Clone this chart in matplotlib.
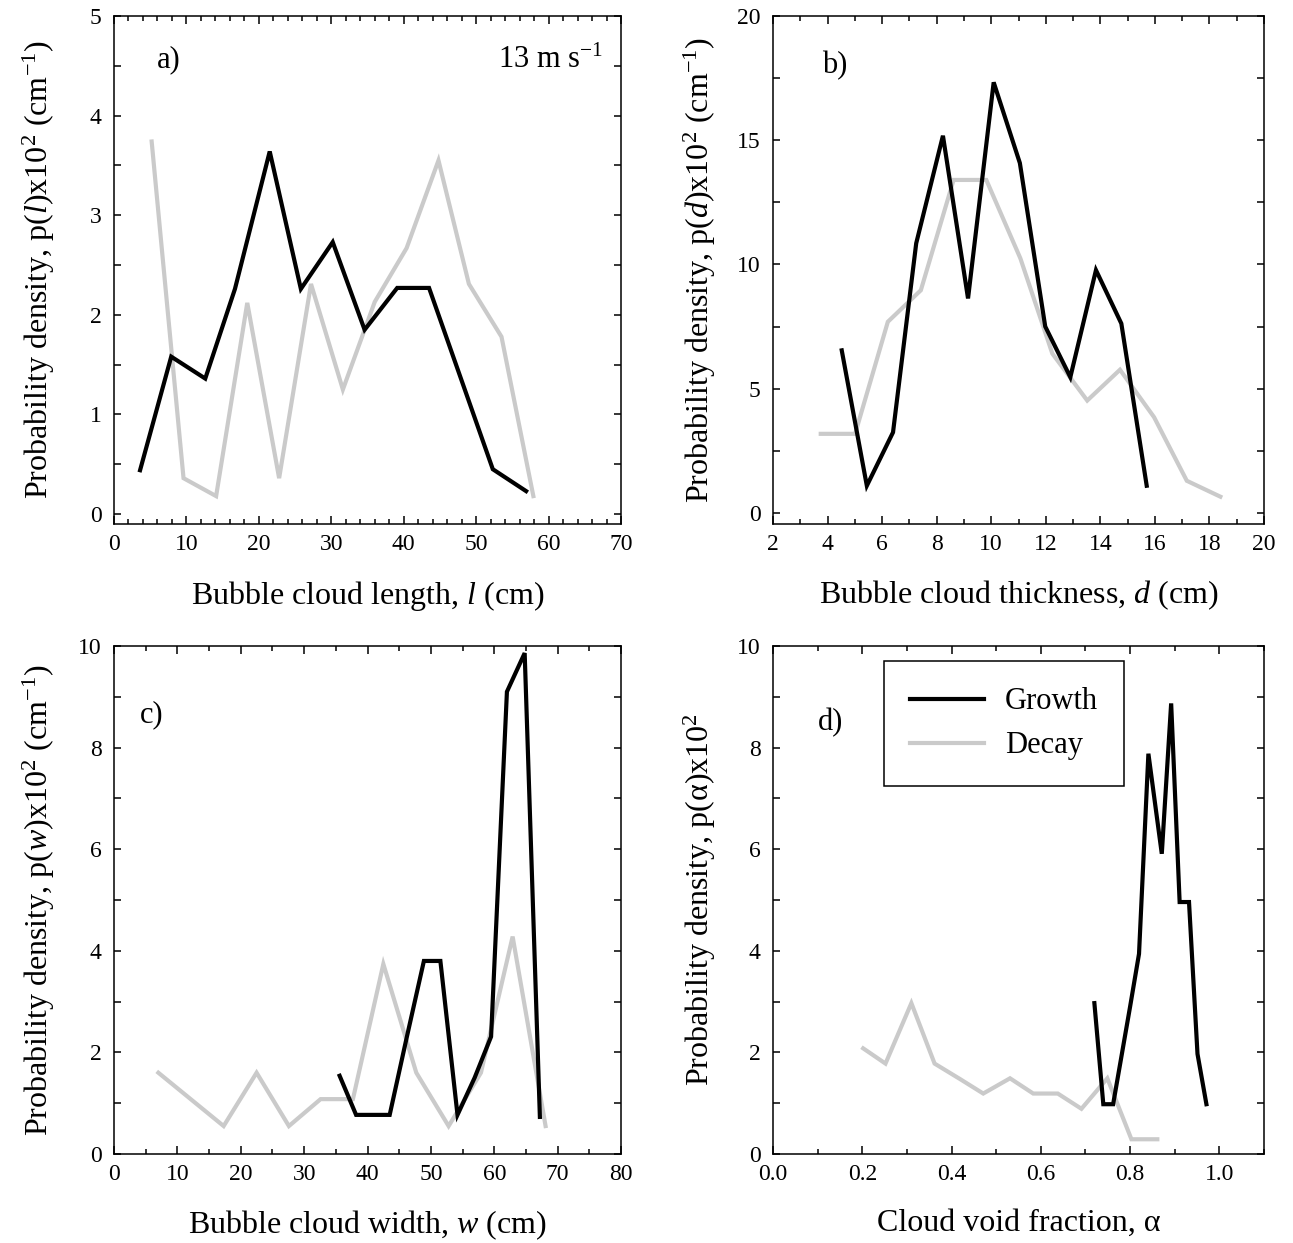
import matplotlib
matplotlib.use("Agg")
import matplotlib.pyplot as plt
from matplotlib.ticker import MultipleLocator, FormatStrFormatter

plt.rcParams['font.family'] = ['Liberation Serif', 'DejaVu Serif']
plt.rcParams['mathtext.fontset'] = 'custom'
plt.rcParams['mathtext.rm'] = 'Liberation Serif'
plt.rcParams['mathtext.it'] = 'Liberation Serif:italic'

GROWTH = 'black'
DECAY = '#cacaca'
LABEL_SIZE = 23
TICK_SIZE = 17

# a) bubble cloud length
len_growth_x = [3.6, 7.9, 12.6, 16.7, 21.5, 25.8, 30.2, 34.6, 39.1, 43.5, 47.9, 52.3, 56.9]
len_growth_y = [0.44, 1.58, 1.36, 2.26, 3.64, 2.26, 2.73, 1.85, 2.27, 2.27, 1.36, 0.45, 0.23]
len_decay_x = [5.2, 9.6, 14.1, 18.4, 22.8, 27.2, 31.6, 36.0, 40.4, 44.8, 49.0, 53.5, 57.9]
len_decay_y = [3.74, 0.36, 0.18, 2.12, 0.36, 2.31, 1.25, 2.13, 2.67, 3.55, 2.31, 1.78, 0.18]

# b) bubble cloud thickness
thk_growth_x = [4.52, 5.44, 6.40, 7.25, 8.23, 9.15, 10.09, 11.05, 11.98, 12.9, 13.84, 14.77, 15.7]
thk_growth_y = [6.54, 1.09, 3.24, 10.85, 15.18, 8.63, 17.33, 14.08, 7.5, 5.46, 9.77, 7.62, 1.09]
thk_decay_x = [3.75, 5.01, 6.21, 7.42, 8.62, 9.82, 11.07, 12.24, 13.52, 14.72, 15.97, 17.17, 18.40]
thk_decay_y = [3.18, 3.18, 7.69, 8.96, 13.4, 13.4, 10.24, 6.41, 4.52, 5.76, 3.85, 1.29, 0.65]

# c) bubble cloud width
wid_growth_x = [35.6, 38.2, 40.9, 43.5, 46.2, 48.9, 51.5, 54.2, 56.9, 59.5, 62.0, 64.8, 67.2]
wid_growth_y = [1.54, 0.77, 0.77, 0.77, 2.3, 3.80, 3.80, 0.77, 1.5, 2.31, 9.10, 9.86, 0.73]
wid_decay_x = [7.0, 12.1, 17.3, 22.5, 27.6, 32.6, 37.7, 42.5, 47.7, 52.8, 57.9, 62.9, 68.1]
wid_decay_y = [1.60, 1.08, 0.55, 1.60, 0.55, 1.08, 1.08, 3.74, 1.60, 0.55, 1.60, 4.28, 0.55]

# d) cloud void fraction
vf_growth_x = [0.720, 0.740, 0.762, 0.800, 0.820, 0.841, 0.871, 0.892, 0.911, 0.932, 0.951, 0.971]
vf_growth_y = [2.97, 0.98, 0.98, 2.9, 3.94, 7.88, 5.91, 8.87, 4.96, 4.96, 1.97, 0.98]
vf_decay_x = [0.202, 0.252, 0.310, 0.362, 0.420, 0.471, 0.531, 0.583, 0.638, 0.691, 0.749, 0.803, 0.861]
vf_decay_y = [2.08, 1.78, 2.97, 1.78, 1.47, 1.19, 1.49, 1.19, 1.19, 0.89, 1.49, 0.29, 0.29]

W, H = 1293, 1243
fig = plt.figure(figsize=(W / 100, H / 100), dpi=100)


def make_axes(left, top, right, bottom):
    return fig.add_axes([left / W, 1 - bottom / H, (right - left) / W, (bottom - top) / H])


def style_axes(ax, xlim, ylim, xmaj, xmin, ymaj, ymin):
    ax.set_xlim(*xlim)
    ax.set_ylim(*ylim)
    ax.xaxis.set_major_locator(MultipleLocator(xmaj))
    ax.xaxis.set_minor_locator(MultipleLocator(xmin))
    ax.yaxis.set_major_locator(MultipleLocator(ymaj))
    ax.yaxis.set_minor_locator(MultipleLocator(ymin))
    ax.tick_params(which='both', direction='in', top=True, right=True, width=1.1)
    ax.tick_params(axis='x', which='major', length=6, pad=7, labelsize=TICK_SIZE)
    ax.tick_params(axis='x', which='minor', length=3.5)
    ax.tick_params(axis='y', which='both', length=5, pad=9, labelsize=TICK_SIZE)
    for s in ax.spines.values():
        s.set_linewidth(1.1)


def draw(ax, gx, gy, dx, dy):
    ax.plot(dx, dy, color=DECAY, lw=3, label='Decay', solid_joinstyle='miter')
    ax.plot(gx, gy, color=GROWTH, lw=3, label='Growth', solid_joinstyle='miter')


ax_a = make_axes(114, 16, 621, 524)
ax_b = make_axes(773, 16, 1264, 524)
ax_c = make_axes(114, 646, 621, 1154)
ax_d = make_axes(773, 646, 1264, 1154)

draw(ax_a, len_growth_x, len_growth_y, len_decay_x, len_decay_y)
style_axes(ax_a, (0, 70), (-0.1, 5), 10, 2, 1, 0.5)
ax_a.set_xlabel('Bubble cloud length, $l$ (cm)', fontsize=LABEL_SIZE)
ax_a.set_ylabel('Probability density, p($l$)x10$^2$ (cm$^{-1}$)', fontsize=LABEL_SIZE)
ax_a.text(0.085, 0.913, 'a)', transform=ax_a.transAxes, fontsize=22, va='center', ha='left')
ax_a.text(0.965, 0.913, '13 m s$^{-1}$', transform=ax_a.transAxes, fontsize=22, va='center', ha='right')

draw(ax_b, thk_growth_x, thk_growth_y, thk_decay_x, thk_decay_y)
style_axes(ax_b, (2, 20), (-0.45, 20), 2, 1, 5, 2.5)
ax_b.set_xlabel('Bubble cloud thickness, $d$ (cm)', fontsize=LABEL_SIZE)
ax_b.set_ylabel('Probability density, p($d$)x10$^2$ (cm$^{-1}$)', fontsize=LABEL_SIZE)
ax_b.text(0.10, 0.903, 'b)', transform=ax_b.transAxes, fontsize=22, va='center', ha='left')

draw(ax_c, wid_growth_x, wid_growth_y, wid_decay_x, wid_decay_y)
style_axes(ax_c, (0, 80), (0, 10), 10, 5, 2, 1)
ax_c.set_xlabel('Bubble cloud width, $w$ (cm)', fontsize=LABEL_SIZE)
ax_c.set_ylabel('Probability density, p($w$)x10$^2$ (cm$^{-1}$)', fontsize=LABEL_SIZE)
ax_c.text(0.051, 0.864, 'c)', transform=ax_c.transAxes, fontsize=22, va='center', ha='left')

draw(ax_d, vf_growth_x, vf_growth_y, vf_decay_x, vf_decay_y)
style_axes(ax_d, (0, 1.1), (0, 10), 0.2, 0.1, 2, 1)
ax_d.xaxis.set_major_formatter(FormatStrFormatter('%.1f'))
ax_d.set_xlabel('Cloud void fraction, α', fontsize=LABEL_SIZE)
ax_d.set_ylabel('Probability density, p(α)x10$^2$', fontsize=LABEL_SIZE)
ax_d.text(0.092, 0.85, 'd)', transform=ax_d.transAxes, fontsize=22, va='center', ha='left')

handles, labels = ax_d.get_legend_handles_labels()
leg = ax_d.legend(handles[::-1], labels[::-1], loc='upper left', bbox_to_anchor=(0.2265, 0.970),
                  fontsize=22, frameon=True, fancybox=False, framealpha=1, edgecolor='black',
                  handlelength=2.4, handletextpad=0.7, labelspacing=0.5, borderpad=0.85,
                  borderaxespad=0)
leg.get_frame().set_linewidth(1.1)

for ax in (ax_a, ax_b, ax_c, ax_d):
    ax.xaxis.set_label_coords(0.5, -0.108)
    ax.yaxis.set_label_coords(-0.112, 0.5)

fig.savefig('out.png', dpi=100)
